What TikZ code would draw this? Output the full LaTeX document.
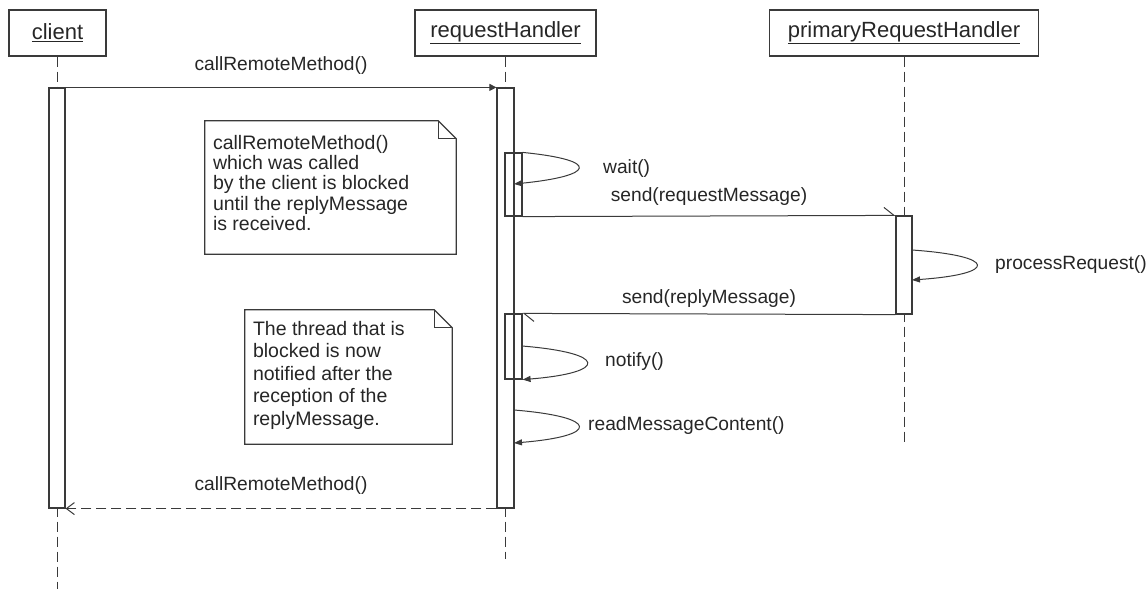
\documentclass[tikz,border=0pt]{standalone}
\usepackage{fontspec}
\setmainfont{Liberation Sans}
\usetikzlibrary{arrows.meta}
\definecolor{lineclr}{HTML}{3A3A3A}
\definecolor{textclr}{HTML}{262626}

\begin{document}
\begin{tikzpicture}[x=1pt, y=-1pt,
  obj/.style={rectangle, draw=lineclr, line width=1.2pt, minimum height=46pt,
              inner sep=0pt, font=\fontsize{22}{24}\selectfont, text=textclr},
  bar/.style={rectangle, draw=lineclr, fill=white, line width=1.2pt,
              minimum width=16pt, inner sep=0pt},
  subbar/.style={bar, fill=none, minimum width=17pt},
  lifeline/.style={draw=lineclr, line width=1pt, dash pattern=on 10pt off 5pt},
  callmsg/.style={draw=lineclr, line width=1pt, -{Triangle[length=7pt, width=7pt]}},
  sendmsg/.style={draw=lineclr, line width=1pt, -{Straight Barb[left, length=10pt, width=16pt]}},
  replymsg/.style={draw=lineclr, line width=1pt, dash pattern=on 10pt off 5pt,
                   -{Straight Barb[length=8pt, width=12pt]}},
  selfmsg/.style={draw=lineclr, line width=1pt, -{Triangle[length=8pt, width=6pt]}},
  msglab/.style={above=#1, inner sep=2pt, font=\fontsize{19.2}{21}\selectfont, text=textclr},
  msglab/.default=12pt,
  lab/.style={anchor=west, inner sep=0pt, font=\fontsize{19.2}{21}\selectfont, text=textclr},
  notebox/.style={rectangle, inner sep=0pt},
  notetext/.style={anchor=north west, inner sep=0pt, align=left, text=textclr},
  noteline/.style={draw=lineclr, line width=1.2pt},
]
\useasboundingbox (0,0) rectangle (1147,589);
% ---- objects and their lifelines
\node[obj, minimum width=97pt] (client) at (57.5,33) {\underline{client}};
\node[obj, minimum width=181pt] (handler) at (505.5,33) {\underline{requestHandler}};
\node[obj, minimum width=269pt] (primary) at (904,33) {\underline{primaryRequestHandler}};
\coordinate (client_end) at (57.5,589);
\coordinate (handler_end) at (505.5,559);
\coordinate (primary_end) at (904,445);
\draw[lifeline] (client) -- (client_end);
\draw[lifeline] (handler) -- (handler_end);
\draw[lifeline] (primary) -- (primary_end);
% ---- activation bars
\node[bar, minimum height=420pt] (act_client) at (57,298) {};
\node[bar, minimum width=17pt, minimum height=420pt] (act_handler) at (505.5,298) {};
\node[bar, minimum height=98pt] (act_primary) at (904,265) {};
\node[subbar, minimum height=63pt] (act_wait) at (513.5,184.5) {};
\node[subbar, minimum height=65pt] (act_notify) at (513.5,346.5) {};
% ---- notes
\node[notebox, minimum width=251pt, minimum height=133pt] (note_blocked) at (330.5,187.5) {};
\node[notetext, font=\fontsize{19.5}{20.3}\selectfont] (note_blocked_text)
  at ([xshift=8pt, yshift=-14pt]note_blocked.north west)
  {callRemoteMethod()\\which was called\\by the client is blocked\\until the replyMessage\\is received.};
\draw[noteline] (note_blocked.north west) -- ([xshift=-18pt]note_blocked.north east)
  -- ([yshift=-18pt]note_blocked.north east) -- (note_blocked.south east)
  -- (note_blocked.south west) -- cycle;
\draw[noteline] ([xshift=-18pt]note_blocked.north east) -- ([xshift=-18pt, yshift=-18pt]note_blocked.north east)
  -- ([yshift=-18pt]note_blocked.north east);
\node[notebox, minimum width=207pt, minimum height=134pt] (note_notified) at (348.5,377) {};
\node[notetext, font=\fontsize{19.5}{22.5}\selectfont] (note_notified_text)
  at ([xshift=8pt, yshift=-11pt]note_notified.north west)
  {The thread that is\\blocked is now\\notified after the\\reception of the\\replyMessage.};
\draw[noteline] (note_notified.north west) -- ([xshift=-18pt]note_notified.north east)
  -- ([yshift=-18pt]note_notified.north east) -- (note_notified.south east)
  -- (note_notified.south west) -- cycle;
\draw[noteline] ([xshift=-18pt]note_notified.north east) -- ([xshift=-18pt, yshift=-18pt]note_notified.north east)
  -- ([yshift=-18pt]note_notified.north east);
% ---- messages
\draw[callmsg] (act_client.north east) -- node[msglab=10pt] {callRemoteMethod()} (act_handler.north west);
\draw[sendmsg] (act_wait.south east) -- node[msglab=8pt] {send(requestMessage)} (act_primary.north west);
\draw[sendmsg] (act_primary.south west) -- node[msglab=4pt] {send(replyMessage)} (act_notify.north east);
\draw[replymsg] (act_handler.south west) -- node[msglab] {callRemoteMethod()} (act_client.south east);
% ---- self calls
\coordinate (wait_in) at (514,184);
\coordinate (process_out) at (912,250);
\coordinate (process_in) at (912,280);
\coordinate (notify_out) at (522,346);
\coordinate (read_out) at (514,410);
\coordinate (read_in) at (514,443);
\draw[selfmsg] (act_wait.north east) .. controls +(80,8) and +(80,-8) .. (wait_in);
\draw[selfmsg] (process_out) .. controls +(86,6) and +(86,-6) .. (process_in);
\draw[selfmsg] (notify_out) .. controls +(86,7) and +(86,-7) .. (act_notify.south east);
\draw[selfmsg] (read_out) .. controls +(86,7) and +(86,-7) .. (read_in);
\node[lab] (wait_lab) at (603,169) {wait()};
\node[lab] (process_lab) at (995,265) {processRequest()};
\node[lab] (notify_lab) at (605,362) {notify()};
\node[lab] (read_lab) at (588,426) {readMessageContent()};
\end{tikzpicture}
\end{document}
